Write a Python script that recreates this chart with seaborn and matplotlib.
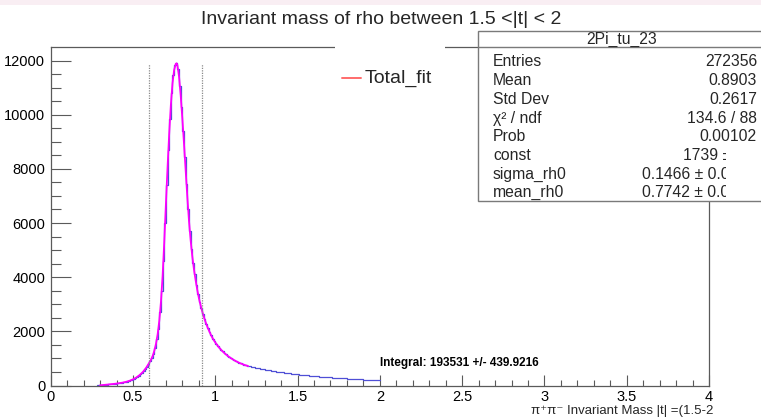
import numpy as np
import pandas as pd
import matplotlib
matplotlib.use("Agg")
import matplotlib.pyplot as plt
from matplotlib.patches import Rectangle
from matplotlib.lines import Line2D
from matplotlib.transforms import Bbox, TransformedBbox
from matplotlib.ticker import MultipleLocator, FuncFormatter
import seaborn as sns

sns.set_theme(style="white")
plt.rcParams["font.family"] = ["Liberation Sans", "DejaVu Sans"]

# ---- histogram: pi+pi- invariant mass, 0.01 GeV bins from 0.28 to 2.00 ----
mass_low, mass_high, bin_width = 0.28, 2.00, 0.01
counts = [
    3, 7, 12, 17, 23, 29, 34, 41, 47, 53,
    61, 67, 75, 84, 93, 104, 117, 131, 147, 166,
    188, 214, 243, 277, 316, 360, 410, 468, 535, 610,
    700, 795, 900, 1020, 1180, 1400, 1700, 2100, 2700, 3500,
    4600, 6000, 7400, 8700, 9850, 10800, 11450, 11820, 11895, 11700,
    11050, 10300, 9400, 8450, 7450, 6500, 5700, 5050, 4530, 4100,
    3720, 3380, 3100, 2860, 2640, 2450, 2280, 2120, 1980, 1850,
    1735, 1635, 1545, 1465, 1390, 1320, 1258, 1200, 1145, 1095,
    1050, 1008, 968, 932, 898, 868, 840, 815, 792, 772,
    754, 738, 720, 706, 688, 677, 660, 650, 633, 624,
    608, 600, 584, 577, 562, 555, 541, 535, 521, 516,
    503, 497, 485, 481, 469, 463, 454, 448, 440, 435,
    427, 420, 410, 404, 396, 391, 383, 378, 372, 366,
    361, 352, 347, 344, 335, 332, 325, 320, 316, 309,
    306, 301, 297, 291, 289, 283, 281, 275, 272, 268,
    264, 261, 256, 253, 249, 246, 241, 239, 234, 231,
    228, 224, 221, 217, 214, 210, 207, 202, 199, 196,
    192, 187,
]

# ---- fitted line shape (Total_fit), sampled along the mass axis ----
fit_mass = [
    0.30, 0.32, 0.34, 0.36, 0.38, 0.40, 0.42, 0.44, 0.46, 0.48,
    0.50, 0.52, 0.54, 0.56, 0.58, 0.60, 0.61, 0.62, 0.63, 0.64,
    0.65, 0.66, 0.67, 0.68, 0.69, 0.70, 0.71, 0.72, 0.73, 0.74,
    0.75, 0.76, 0.765, 0.77, 0.78, 0.79, 0.80, 0.81, 0.82, 0.83,
    0.84, 0.85, 0.86, 0.87, 0.88, 0.89, 0.90, 0.91, 0.92, 0.93,
    0.94, 0.95, 0.96, 0.97, 0.98, 0.99, 1.00, 1.02, 1.04, 1.06,
    1.08, 1.10, 1.12, 1.14, 1.16, 1.18, 1.20,
]
fit_value = [
    8, 19, 31, 44, 57, 71, 89, 110, 139, 177,
    228, 296, 385, 500, 655, 850, 960, 1100, 1290, 1550,
    1900, 2400, 3100, 4050, 5300, 6700, 8050, 9300, 10350, 11150,
    11650, 11880, 11900, 11830, 11400, 10700, 9850, 8930, 7950, 6980,
    6100, 5380, 4790, 4310, 3910, 3550, 3240, 2980, 2750, 2550,
    2360, 2200, 2050, 1915, 1790, 1685, 1590, 1425, 1285, 1170,
    1075, 990, 915, 855, 800, 755, 715,
]

# integration window marked by dotted lines
window_edges = [0.595, 0.918]
window_top = 11870

title = "Invariant mass of rho between 1.5 <|t| < 2"
x_label = "π\u207aπ\u207b Invariant Mass |t| =(1.5-2"
integral_text = "Integral: 193531 +/- 439.9216"
legend_label = "Total_fit"

stats_name = "2Pi_tu_23"
stats_keys = ["Entries", "Mean", "Std Dev", "χ² / ndf", "Prob"]
stats_vals = ["272356", "0.8903", "0.2617", "134.6 / 88", "0.00102"]
param_keys = ["const", "sigma_rh0", "mean_rh0"]
param_vals = ["1739 ± ", "0.1466 ± 0.0", "0.7742 ± 0.0"]

HIST_COLOR = "#4f4fd6"
FIT_COLOR = "#ff00ff"
LEGEND_LINE = "#ff6b6b"
FRAME = "#5a5a5a"

W, H = 761, 418
fig = plt.figure(figsize=(W / 100, H / 100), dpi=100)


def fx(px):
    return px / W


def fy(py):
    return 1 - py / H


ax_l, ax_r, ax_t, ax_b = 50.7, 709.0, 47.3, 385.5
ax = fig.add_axes([fx(ax_l), fy(ax_b), fx(ax_r - ax_l), (ax_b - ax_t) / H])

n_bins = len(counts)
centers = mass_low + bin_width * (np.arange(n_bins) + 0.5)
hist_df = pd.DataFrame({"mass": centers, "count": counts})

sns.histplot(data=hist_df, x="mass", weights="count", bins=n_bins,
             binrange=(mass_low, mass_high), element="step", fill=False,
             color=HIST_COLOR, linewidth=0.9, ax=ax)

fit_df = pd.DataFrame({"mass": fit_mass, "value": fit_value})
sns.lineplot(data=fit_df, x="mass", y="value", color=FIT_COLOR, linewidth=1.3,
             sort=False, estimator=None, ax=ax)

ax.vlines(window_edges, 0, window_top, colors="#8a8a8a", linestyles=(0, (1, 1)),
          linewidth=0.9)

ax.set_xlim(0, 4)
ax.set_ylim(0, 12490)
ax.set_xlabel("")
ax.set_ylabel("")

ax.xaxis.set_major_locator(MultipleLocator(0.5))
ax.xaxis.set_minor_locator(MultipleLocator(0.1))
ax.yaxis.set_major_locator(MultipleLocator(2000))
ax.yaxis.set_minor_locator(MultipleLocator(500))
ax.xaxis.set_major_formatter(FuncFormatter(lambda v, p: f"{v:g}"))
ax.yaxis.set_major_formatter(FuncFormatter(lambda v, p: f"{v:g}"))

ax.tick_params(axis="x", which="major", direction="in", length=8, width=0.8,
               color=FRAME, pad=3, labelsize=10.5, labelcolor="black",
               bottom=True, top=False)
ax.tick_params(axis="x", which="minor", direction="in", length=4.3, width=0.8,
               color=FRAME, bottom=True, top=False)
ax.tick_params(axis="y", which="major", direction="in", length=14.4, width=0.8,
               color=FRAME, pad=4, labelsize=10.5, labelcolor="black",
               left=True, right=False)
ax.tick_params(axis="y", which="minor", direction="in", length=7.2, width=0.8,
               color=FRAME, left=True, right=False)
for side in ax.spines.values():
    side.set_color(FRAME)
    side.set_linewidth(0.9)

ax.text(2.0, 830, integral_text, fontsize=8.5, fontweight="bold",
        ha="left", va="center", color="black")

# faint band along the top edge
fig.patches.append(Rectangle((0, fy(5)), 1, 5 / H, transform=fig.transFigure,
                             facecolor="#f9eef3", edgecolor="none", zorder=1))

fig.text(fx(381), fy(20), title, ha="center", va="center", fontsize=14)
fig.text(fx(713), fy(411), x_label, ha="right", va="center", fontsize=9.5)

# legend pad (white, borderless) with its single entry
fig.patches.append(Rectangle((fx(335), fy(112)), fx(445 - 335), (112 - 38) / H,
                             transform=fig.transFigure, facecolor="white",
                             edgecolor="none", zorder=1))
fig.lines.append(Line2D([fx(342), fx(361)], [fy(78), fy(78)], transform=fig.transFigure,
                        color=LEGEND_LINE, linewidth=1.4, zorder=2))
fig.text(fx(365), fy(78), legend_label, ha="left", va="center", fontsize=14, zorder=2)

# statistics box
box_l, box_t, box_b, sep_y = 478.3, 31.0, 201.5, 47.3
fig.patches.append(Rectangle((fx(box_l), fy(box_b)), fx(775 - box_l), (box_b - box_t) / H,
                             transform=fig.transFigure, facecolor="white",
                             edgecolor="#7a7a7a", linewidth=1.0, zorder=1))
fig.lines.append(Line2D([fx(box_l), 1.0], [fy(sep_y), fy(sep_y)], transform=fig.transFigure,
                        color="#7a7a7a", linewidth=1.0, zorder=2))
fig.text(fx(622), fy(39.5), stats_name, ha="center", va="center", fontsize=11.3, zorder=3)

row_y = [61.7, 80.7, 99.3, 118.3, 136.7, 155.0, 174.0, 192.7]
for k, (key, val) in enumerate(zip(stats_keys, stats_vals)):
    fig.text(fx(493), fy(row_y[k]), key, ha="left", va="center", fontsize=11.3, zorder=3)
    fig.text(fx(757), fy(row_y[k]), val, ha="right", va="center", fontsize=11.3, zorder=3)

clip = TransformedBbox(Bbox([[0, 0], [fx(726), 1]]), fig.transFigure)
param_x = [683, 641.7, 641.7]
for k, (key, val) in enumerate(zip(param_keys, param_vals)):
    yk = row_y[len(stats_keys) + k]
    fig.text(fx(493), fy(yk), key, ha="left", va="center", fontsize=11.3, zorder=3)
    t = fig.text(fx(param_x[k]), fy(yk), val, ha="left", va="center",
                 fontsize=11.3, zorder=3)
    t.set_clip_box(clip)
    t.set_clip_on(True)

fig.savefig("out.png", dpi=100)
